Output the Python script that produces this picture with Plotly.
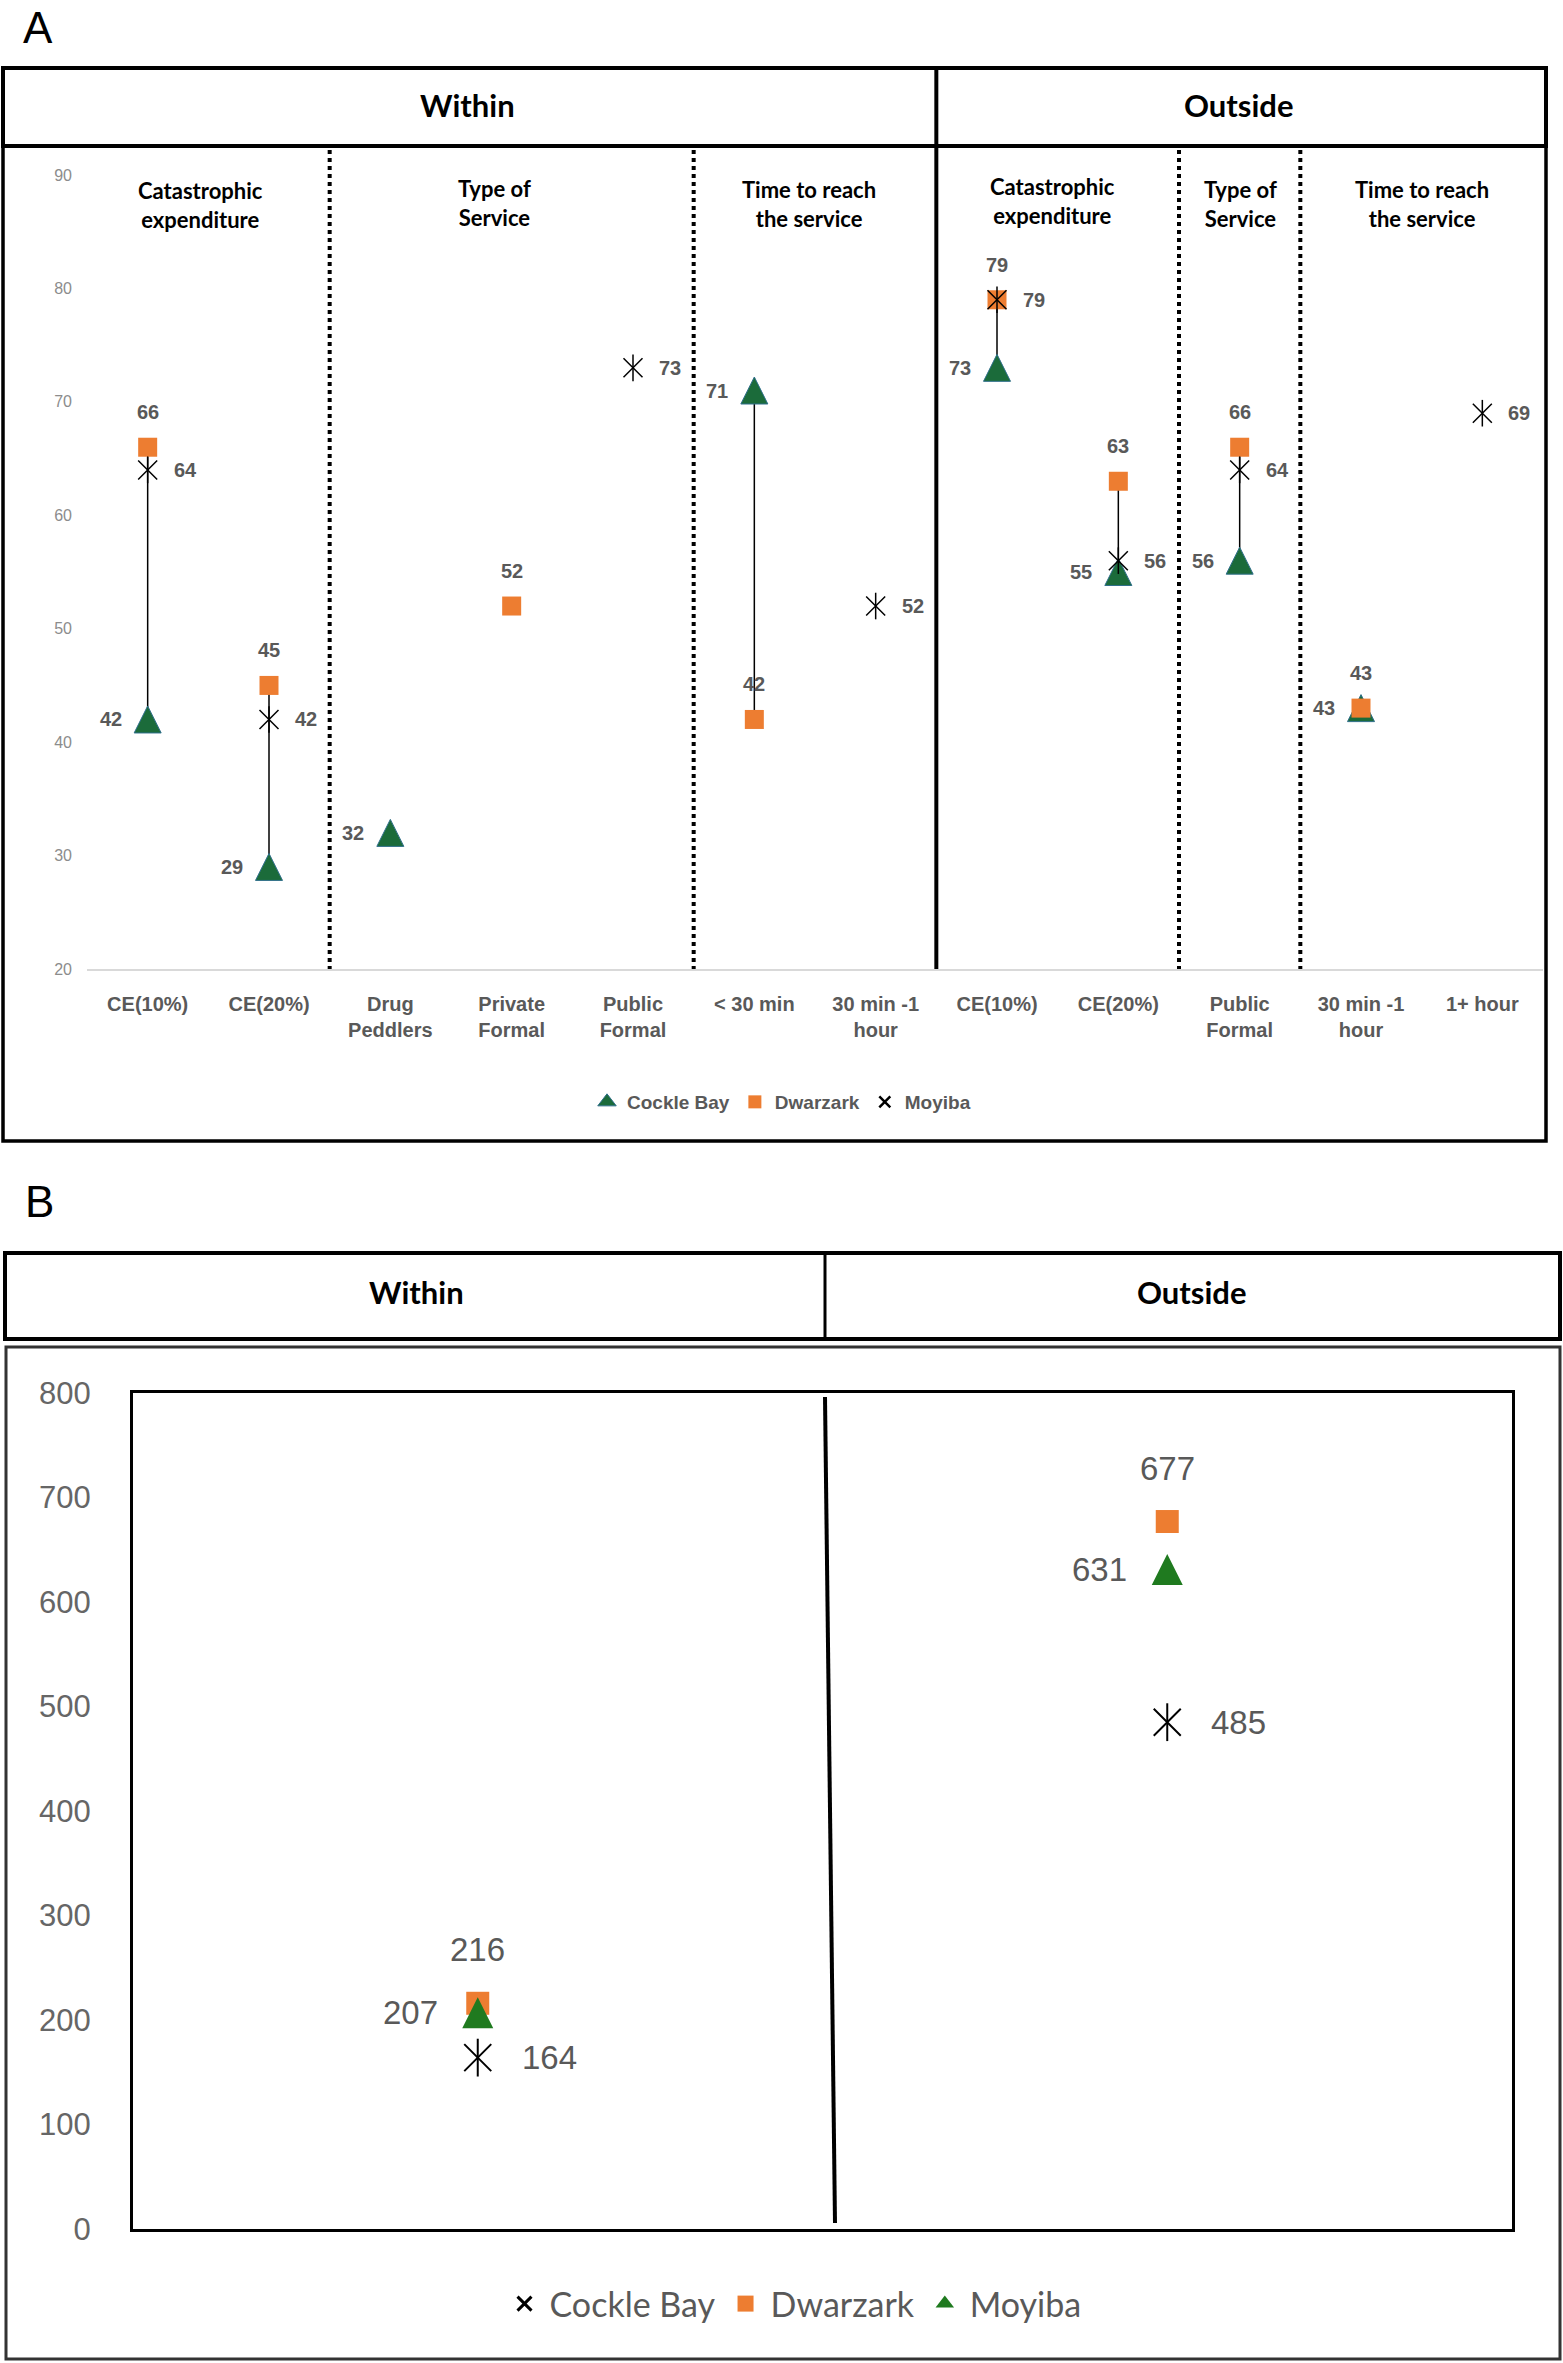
import plotly.graph_objects as go

# ---- panel A: share (%) by category, within / outside
cats_a = ["CE(10%)", "CE(20%)", "Drug<br>Peddlers", "Private<br>Formal", "Public<br>Formal",
          "< 30 min", "30 min -1<br>hour",
          "CE(10%)", "CE(20%)", "Public<br>Formal", "30 min -1<br>hour", "1+ hour"]
cockle_a = [42, 29, 32, None, None, 71, None, 73, 55, 56, 43, None]
dwarzark_a = [66, 45, None, 52, None, 42, None, 79, 63, 66, 43, None]
moyiba_a = [64, 42, None, None, 73, None, 52, 79, 56, 64, None, 69]
yticks_a = [20, 30, 40, 50, 60, 70, 80, 90]

section_titles = ["Catastrophic<br>expenditure", "Type of<br>Service", "Time to reach<br>the service",
                  "Catastrophic<br>expenditure", "Type of<br>Service", "Time to reach<br>the service"]

# ---- panel B
groups_b = ["Within", "Outside"]
cockle_b = [164, 485]
dwarzark_b = [216, 677]
moyiba_b = [207, 631]
yticks_b = [0, 100, 200, 300, 400, 500, 600, 700, 800]

W, H = 1563, 2363


def px(x):
    return x / W


def py(y):
    return 1 - y / H


ORANGE = "#ED7D31"
GREEN_A = "#1b6b3a"
GREEN_B = "#1f7a1f"
GREY = "#595959"
NARROW = "Liberation Sans Narrow, Arial Narrow, Liberation Sans, sans-serif"
CALIBRI = "Lato, Carlito, Calibri, sans-serif"
ARIAL = "Liberation Sans, Arial, sans-serif"

xa = list(range(len(cats_a)))
xb = list(range(len(groups_b)))

fig = go.Figure()

# high-low lines for panel A
hl_x, hl_y = [], []
for i in xa:
    vals = [v for v in (cockle_a[i], dwarzark_a[i], moyiba_a[i]) if v is not None]
    if len(vals) > 1 and min(vals) != max(vals):
        hl_x += [i, i, None]
        hl_y += [min(vals), max(vals), None]
fig.add_trace(go.Scatter(x=hl_x, y=hl_y, mode="lines", line=dict(color="black", width=1.5),
                         showlegend=False, hoverinfo="skip"))

# tall triangles: flipped arrow pushed back by half its height so it sits centred on the value
fig.add_trace(go.Scatter(x=xa, y=cockle_a, mode="markers", showlegend=False, cliponaxis=False,
                         marker=dict(symbol="arrow-down", angle=180, size=27, standoff=13.5,
                                     color=GREEN_A, line=dict(color="#2f6f8a", width=1))))
fig.add_trace(go.Scatter(x=xa, y=dwarzark_a, mode="markers", showlegend=False, cliponaxis=False,
                         marker=dict(symbol="square", size=19, color=ORANGE)))
for sym in ["x-thin-open", "line-ns-open"]:
    fig.add_trace(go.Scatter(x=xa, y=moyiba_a, mode="markers", showlegend=False, cliponaxis=False,
                             marker=dict(symbol=sym, size=19, color="black",
                                         line=dict(color="black", width=1.5))))

# panel B markers
fig.add_trace(go.Scatter(x=xb, y=dwarzark_b, mode="markers", showlegend=False, xaxis="x2", yaxis="y2",
                         cliponaxis=False, marker=dict(symbol="square", size=23, color=ORANGE)))
fig.add_trace(go.Scatter(x=xb, y=moyiba_b, mode="markers", showlegend=False, xaxis="x2", yaxis="y2",
                         cliponaxis=False,
                         marker=dict(symbol="arrow-down", angle=180, size=31, standoff=15.5,
                                     color=GREEN_B)))
for sym in ["x-thin-open", "line-ns-open"]:
    fig.add_trace(go.Scatter(x=xb, y=cockle_b, mode="markers", showlegend=False, xaxis="x2", yaxis="y2",
                             cliponaxis=False,
                             marker=dict(symbol=sym, size=27, color="black",
                                         line=dict(color="black", width=2))))

# legend entries (no points of their own)
legend_items = [
    ("legend", "Cockle Bay", dict(symbol="triangle-up", size=16, color=GREEN_A,
                                  line=dict(color="#2f6f8a", width=1))),
    ("legend", "Dwarzark", dict(symbol="square", size=13, color=ORANGE)),
    ("legend", "Moyiba", dict(symbol="x-thin-open", size=11, color="black",
                              line=dict(color="black", width=2.5))),
    ("legend2", "Cockle Bay", dict(symbol="x-thin-open", size=14, color="black",
                                   line=dict(color="black", width=3))),
    ("legend2", "Dwarzark", dict(symbol="square", size=16, color=ORANGE)),
    ("legend2", "Moyiba", dict(symbol="triangle-up", size=16, color=GREEN_B)),
]
for rank, (lg, name, mk) in enumerate(legend_items):
    fig.add_trace(go.Scatter(x=[None], y=[None], mode="markers", name=name, legend=lg,
                             legendrank=rank + 1, marker=mk,
                             xaxis="x" if lg == "legend" else "x2",
                             yaxis="y" if lg == "legend" else "y2"))

annotations = []


def add_labels(xs, ys, side, font, shift, xref="x", yref="y"):
    for x, v in zip(xs, ys):
        if v is None:
            continue
        a = dict(x=x, y=v, xref=xref, yref=yref, text=str(v), showarrow=False, font=font)
        if side == "left":
            a.update(xanchor="right", yanchor="middle", xshift=-shift)
        elif side == "right":
            a.update(xanchor="left", yanchor="middle", xshift=shift)
        else:
            a.update(xanchor="center", yanchor="bottom", yshift=shift)
        annotations.append(a)


font_a = dict(family=NARROW, size=20, color=GREY, weight="bold")
add_labels(xa, cockle_a, "left", font_a, 24)
add_labels(xa, dwarzark_a, "top", font_a, 22)
add_labels(xa, moyiba_a, "right", font_a, 24)

font_b = dict(family=ARIAL, size=33, color=GREY)
add_labels(xb, dwarzark_b, "top", font_b, 33, "x2", "y2")
add_labels(xb, moyiba_b, "left", font_b, 38, "x2", "y2")
add_labels(xb, cockle_b, "right", font_b, 42, "x2", "y2")


def paper_text(x, y, text, font):
    annotations.append(dict(x=px(x), y=py(y), xref="paper", yref="paper", text=text,
                            showarrow=False, xanchor="center", yanchor="middle", font=font))


head_font = dict(family=CALIBRI, size=31, color="black", weight="bold")
paper_text(38, 27, "A", dict(family=ARIAL, size=44, color="black"))
paper_text(39, 1201, "B", dict(family=ARIAL, size=44, color="black"))
paper_text(467, 105, "Within", head_font)
paper_text(1239, 105, "Outside", head_font)
paper_text(416, 1292, "Within", head_font)
paper_text(1192, 1292, "Outside", head_font)

title_pos = [(200, 205), (494, 203), (809, 204), (1052, 201), (1240, 204), (1422, 204)]
for t, (tx, ty) in zip(section_titles, title_pos):
    paper_text(tx, ty, t, dict(family=CALIBRI, size=22, color="black", weight="bold"))

shapes = [
    # panel A frames
    dict(type="rect", xref="paper", yref="paper", x0=px(3), x1=px(1546), y0=py(146), y1=py(68),
         line=dict(color="black", width=4)),
    dict(type="rect", xref="paper", yref="paper", x0=px(3), x1=px(1546), y0=py(1141), y1=py(146),
         line=dict(color="black", width=3.5)),
    dict(type="line", xref="x", yref="paper", x0=6.5, x1=6.5, y0=py(68), y1=py(969),
         line=dict(color="black", width=4)),
    # panel B frames
    dict(type="rect", xref="paper", yref="paper", x0=px(5), x1=px(1560), y0=py(1339), y1=py(1253),
         line=dict(color="black", width=4)),
    dict(type="line", xref="paper", yref="paper", x0=px(825), x1=px(825), y0=py(1339), y1=py(1253),
         line=dict(color="black", width=3)),
    dict(type="rect", xref="paper", yref="paper", x0=px(6), x1=px(1560), y0=py(2359), y1=py(1347),
         line=dict(color="#333333", width=3)),
    dict(type="line", xref="paper", yref="paper", x0=px(825), x1=px(835), y0=py(1397), y1=py(2223),
         line=dict(color="black", width=4)),
]
for xd in [1.5, 4.5, 8.5, 9.5]:
    shapes.append(dict(type="line", xref="x", yref="paper", x0=xd, x1=xd, y0=py(150), y1=py(969),
                       line=dict(color="black", width=4, dash="dot")))

fig.update_layout(
    width=W, height=H, autosize=False,
    margin=dict(l=0, r=0, t=0, b=0, autoexpand=False),
    paper_bgcolor="white", plot_bgcolor="white",
    showlegend=True,
    xaxis=dict(domain=[px(87), px(1543)], range=[-0.5, 11.5], tickvals=xa, ticktext=cats_a,
               ticks="", showgrid=False, zeroline=False, showline=True, linecolor="#d9d9d9",
               linewidth=2, ticklabelstandoff=16,
               tickfont=dict(family=NARROW, size=20, color=GREY, weight="bold")),
    yaxis=dict(domain=[py(969), py(175)], range=[20, 90], tickvals=yticks_a, ticks="",
               showgrid=False, zeroline=False, showline=False, ticklabelstandoff=14,
               tickfont=dict(family=ARIAL, size=16, color="#8c8c8c")),
    xaxis2=dict(domain=[px(133), px(1512)], range=[-0.5, 1.5], anchor="y2", tickvals=xb,
                showticklabels=False, ticks="", showgrid=False, zeroline=False,
                showline=True, mirror=True, linecolor="black", linewidth=3),
    yaxis2=dict(domain=[py(2229), py(1393)], range=[0, 800], anchor="x2", tickvals=yticks_b,
                ticks="", showgrid=False, zeroline=False, showline=True, mirror=True,
                linecolor="black", linewidth=3, ticklabelstandoff=33,
                tickfont=dict(family=ARIAL, size=31, color="#666666")),
    legend=dict(orientation="h", x=0.5, xanchor="center", y=py(1102), yanchor="middle",
                font=dict(family=NARROW, size=19, color=GREY, weight="bold"),
                bgcolor="rgba(0,0,0,0)", itemwidth=30),
    legend2=dict(orientation="h", x=px(793), xanchor="center", y=py(2304), yanchor="middle",
                 font=dict(family=CALIBRI, size=34, color=GREY),
                 bgcolor="rgba(0,0,0,0)", itemwidth=40),
    annotations=annotations,
    shapes=shapes,
)

fig.write_html("out.html", config={"displayModeBar": False},
               post_script="document.body.style.margin='0';")
